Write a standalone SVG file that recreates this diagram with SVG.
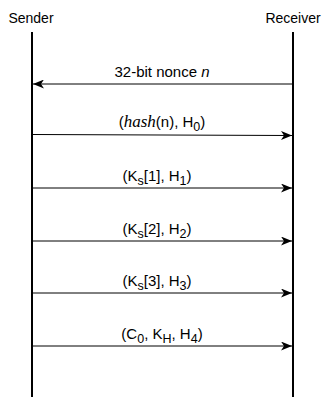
<svg xmlns="http://www.w3.org/2000/svg" width="323" height="397" viewBox="0 0 323 397">
  <style>
    .actor { font-family: "Liberation Sans", Arial, sans-serif; font-size: 14px; fill: #000; text-anchor: middle; }
    .lbl { font-family: "Liberation Sans", Arial, sans-serif; font-size: 15px; fill: #000; text-anchor: middle; }
    .sub { font-size: 12.5px; }
    .math { font-family: "Liberation Serif", "Times New Roman", serif; font-style: italic; font-size: 17px; }
    .life { stroke: #000; stroke-width: 2; fill: none; }
    .msg { stroke: #000; stroke-width: 1; fill: none; marker-end: url(#ah); }
  </style>
  <defs>
    <marker id="ah" viewBox="0 0 11 9" refX="11" refY="4.5" markerWidth="11" markerHeight="9" orient="auto" markerUnits="userSpaceOnUse">
      <path d="M0,0 L11,4.5 L0,9 L3,4.5 Z" fill="#000"/>
    </marker>
  </defs>

  <rect width="323" height="397" fill="#fff"/>

  <g id="sender">
    <text class="actor" x="31" y="23">Sender</text>
    <line class="life" x1="32" y1="32" x2="32" y2="397"/>
  </g>
  <g id="receiver">
    <text class="actor" x="293" y="23">Receiver</text>
    <line class="life" x1="293" y1="32" x2="293" y2="397"/>
  </g>

  <g id="connectors">
    <line class="msg" x1="292" y1="84" x2="33" y2="84"/>
    <line class="msg" x1="33" y1="134.5" x2="292" y2="135.5"/>
    <line class="msg" x1="33" y1="188" x2="292" y2="188"/>
    <line class="msg" x1="33" y1="241" x2="292" y2="241"/>
    <line class="msg" x1="33" y1="293" x2="292" y2="293"/>
    <line class="msg" x1="33" y1="346" x2="292" y2="346"/>
  </g>

  <g id="labels">
    <text class="lbl" x="162" y="77">32-bit nonce <tspan font-style="italic">n</tspan></text>
    <text class="lbl" x="162" y="127">(<tspan class="math">hash</tspan>(n), H<tspan class="sub" dy="4">0</tspan><tspan dy="-4">)</tspan></text>
    <text class="lbl" x="157" y="181">(K<tspan class="sub" dy="4">s</tspan><tspan dy="-4">[1], H</tspan><tspan class="sub" dy="4">1</tspan><tspan dy="-4">)</tspan></text>
    <text class="lbl" x="157" y="234">(K<tspan class="sub" dy="4">s</tspan><tspan dy="-4">[2], H</tspan><tspan class="sub" dy="4">2</tspan><tspan dy="-4">)</tspan></text>
    <text class="lbl" x="157" y="286">(K<tspan class="sub" dy="4">s</tspan><tspan dy="-4">[3], H</tspan><tspan class="sub" dy="4">3</tspan><tspan dy="-4">)</tspan></text>
    <text class="lbl" x="162" y="339">(C<tspan class="sub" dy="4">0</tspan><tspan dy="-4">, K</tspan><tspan class="sub" dy="4">H</tspan><tspan dy="-4">, H</tspan><tspan class="sub" dy="4">4</tspan><tspan dy="-4">)</tspan></text>
  </g>
</svg>
